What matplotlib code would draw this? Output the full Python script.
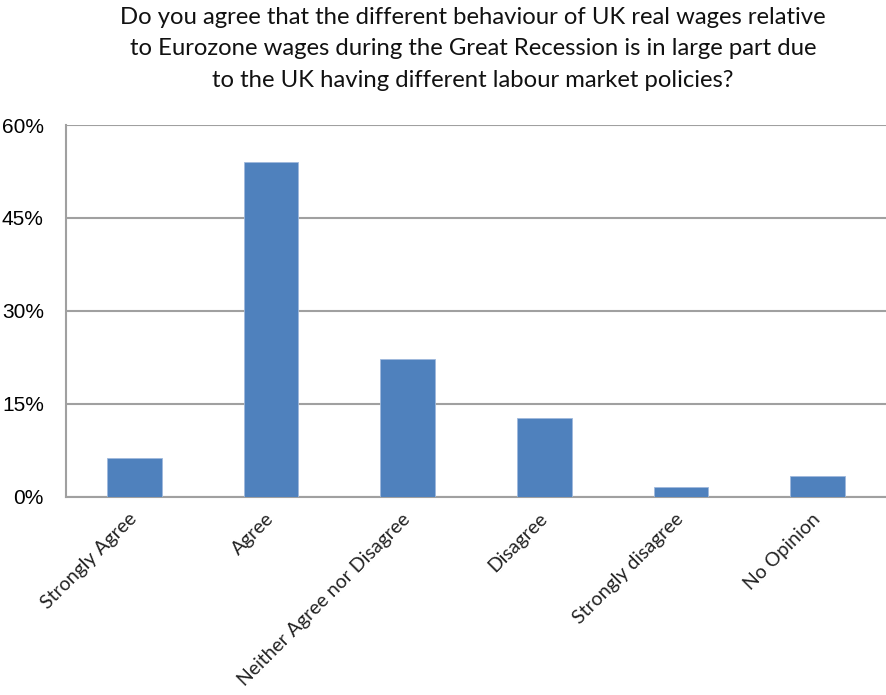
import matplotlib.pyplot as plt
from matplotlib.ticker import FuncFormatter

categories = ['Strongly Agree', 'Agree', 'Neither Agree nor Disagree',
              'Disagree', 'Strongly disagree', 'No Opinion']
shares = [6.2, 54.0, 22.2, 12.7, 1.5, 3.3]
y_ticks = [0, 15, 30, 45, 60]
title = ('Do you agree that the different behaviour of UK real wages relative\n'
         'to Eurozone wages during the Great Recession is in large part due\n'
         'to the UK having different labour market policies?')

fig = plt.figure(figsize=(8.87, 6.95), dpi=100)
ax = fig.add_axes([0.0744, 0.2853, 0.9245, 0.5348])

x = list(range(len(categories)))
ax.bar(x, shares, width=0.4, color='#4F81BD', edgecolor='#9fb9dc',
       linewidth=0.6, zorder=3)

ax.set_xlim(-0.5, len(categories) - 0.5)
ax.set_ylim(0, 60)
ax.set_yticks(y_ticks)
ax.yaxis.set_major_formatter(FuncFormatter(lambda v, _: f'{v:.0f}%'))
ax.grid(axis='y', color='#a0a0a0', linewidth=1.5, zorder=0)

for side in ['top', 'right']:
    ax.spines[side].set_visible(False)
for side in ['left', 'bottom']:
    ax.spines[side].set_color('#a0a0a0')
    ax.spines[side].set_linewidth(1.5)

ax.tick_params(axis='y', length=0, pad=16, labelsize=15)
for lbl in ax.get_yticklabels():
    lbl.set_family('Liberation Sans')

ax.set_xticks(x)
ax.set_xticklabels(categories, rotation=45, ha='right', va='center',
                   rotation_mode='anchor', family='Lato', fontsize=14,
                   color='#222222')
ax.tick_params(axis='x', length=0, pad=14)

fig.text(0.533, 0.990, title, ha='center', va='top', family='Lato',
         fontsize=17.2, linespacing=1.62, color='#111111')

fig.savefig('out.png', dpi=100)
